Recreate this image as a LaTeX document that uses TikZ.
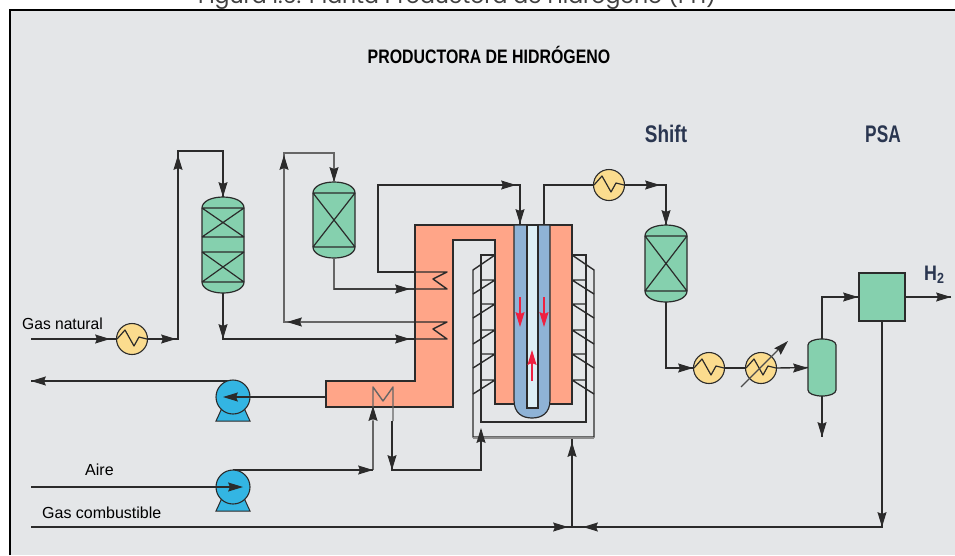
\documentclass[tikz,border=0pt]{standalone}
\usepackage{fontspec}
\setmainfont{Liberation Sans}
\newfontfamily\capfont{Poppins}
\usetikzlibrary{calc}
\definecolor{bgc}{HTML}{E4E6E8}
\definecolor{linec}{HTML}{2B2B2B}
\definecolor{hxc}{HTML}{FBDC8E}
\definecolor{vesc}{HTML}{85D0AE}
\definecolor{furn}{HTML}{FFA588}
\definecolor{tubec}{HTML}{8FB3D6}
\definecolor{tubein}{HTML}{DDEFF6}
\definecolor{pumpc}{HTML}{33B5E3}
\definecolor{headc}{HTML}{2A3650}
\definecolor{redc}{HTML}{EE2040}
\tikzset{
  pipe/.style={draw=linec,line width=1.4pt},
  greypipe/.style={draw=black!60,line width=1.4pt},
  hxnode/.style={circle,draw=linec,line width=1.1pt,fill=hxc,minimum size=31pt,inner sep=0pt},
  pumpnode/.style={circle,draw=linec,line width=1.1pt,fill=pumpc,minimum size=34pt,inner sep=0pt},
  boxnode/.style={draw=linec,line width=1.5pt,fill=vesc,minimum width=46pt,minimum height=48pt,inner sep=0pt},
  lab/.style={font=\fontsize{16}{18}\selectfont,text=black,inner sep=0pt,anchor=base west},
  heading/.style={font=\bfseries\fontsize{24}{26}\selectfont,text=headc,inner sep=0pt},
}
% arrowhead: tip at (x,y), direction in degrees (0 right, 90 up)
\newcommand{\ahd}[4][linec]{\fill[#1,shift={(#2,#3)},rotate=#4] (0,0)--(-15,4.6)--(-13,0)--(-15,-4.6)--cycle;}
% vessel: name, cx, top, bottom, half width, head height
\newcommand{\vessel}[6]{%
  \path[draw=linec,line width=1.2pt,fill=vesc]
    ({#2-#5},{#3+#6}) .. controls ({#2-#5},{#3+.4*#6}) and ({#2-.55*#5},#3) .. (#2,#3)
    .. controls ({#2+.55*#5},#3) and ({#2+#5},{#3+.4*#6}) .. ({#2+#5},{#3+#6})
    -- ({#2+#5},{#4-#6})
    .. controls ({#2+#5},{#4-.4*#6}) and ({#2+.55*#5},#4) .. (#2,#4)
    .. controls ({#2-.55*#5},#4) and ({#2-#5},{#4-.4*#6}) .. ({#2-#5},{#4-#6}) -- cycle;
  \node[inner sep=0pt,minimum width={2*#5*1pt},minimum height={(#4-#3)*1pt}] (#1) at (#2,{(#3+#4)/2}) {};
}
% catalyst bed: x left, x right, top, bottom
\newcommand{\bed}[4]{%
  \draw[line width=1.2pt,draw=linec] (#1,#3)--(#2,#3) (#1,#4)--(#2,#4) (#1,#3)--(#2,#4) (#1,#4)--(#2,#3);
}
% zigzag in exchanger
\newcommand{\zig}[2]{%
  \draw[line width=1.2pt,draw=linec,line join=round] ({#1-15},#2)--({#1-7},{#2-9})--({#1+2},{#2+7})--({#1+7},{#2-2})--({#1+15},#2);
}
\begin{document}
\begin{tikzpicture}[x=1pt,y=-1pt]
\useasboundingbox (0,0) rectangle (955,555);
\clip (0,0) rectangle (955,555);
% page and panel
\fill[white] (0,0) rectangle (955,555);
\fill[bgc] (10,10) rectangle (955,555);
\draw[black,line width=2.4pt] (10,555)--(10,10)--(955,10);
\node[font=\capfont\fontsize{22}{24}\selectfont,text=black!75,inner sep=0pt,anchor=base west] (cap) at (198,3) {Figura I.6: Planta Productora de Hidrógeno (PH)};
% labels
\node[heading,font=\bfseries\fontsize{19.5}{21}\selectfont,text=black] (title) at (489,55) {\scalebox{.815}[1]{PRODUCTORA DE HIDRÓGENO}};
\node[heading] (shift) at (666,134) {\scalebox{.79}[1]{Shift}};
\node[heading] (psa) at (883,134) {\scalebox{.72}[1]{PSA}};
\node[heading,font=\bfseries\fontsize{21}{23}\selectfont,anchor=base west] (h2) at (924,280) {\scalebox{.85}[1]{H$_{\mathbf 2}$}};
\node[lab] (lgas) at (22,329) {\scalebox{.975}[1]{Gas natural}};
\node[lab] (laire) at (85,475) {Aire};
\node[lab] (lcomb) at (42,518) {Gas combustible};
% free ends
\coordinate (gasin) at (31,339);
\coordinate (aout) at (31,381);
\coordinate (airin) at (31,487);
\coordinate (fuelin) at (31,527);
\coordinate (h2out) at (951,297);
\coordinate (sepout) at (822,437);
\coordinate (frameb) at (572,437);
\coordinate (mix) at (572,527);
% equipment
\vessel{ra}{223}{197}{293}{21}{11}
\bed{202}{244}{208}{237}
\bed{202}{244}{252}{282}
\vessel{rb}{334}{182}{258}{21}{11}
\bed{313}{355}{193}{247}
\vessel{rc}{666}{225}{302}{21}{11}
\bed{645}{687}{236}{291}
\vessel{sep}{822}{339}{396}{14}{6}
\node[boxnode] (psabox) at (882,297) {};
% piping left block
\draw[pipe] (gasin)--(178,339)--(178,151)--(223,151)--(ra.north);
\draw[greypipe] (rb.north)--(334,153)--(284,153)--(284,322)--(447,322);
\draw[pipe] (ra.south)--(223,339)--(447,339);
\draw[greypipe] (rb.south)--(334,289)--(447,289);
\draw[pipe] (447,272)--(378,272)--(378,185)--(520,185)--(520,224);
% burner frames
\draw[pipe] (495,255)--(481,255)--(481,422)--(586,422)--(586,255)--(572,255);
\draw[pipe] (495,255)--(473,270)--(473,437)--(594,437)--(594,270)--(572,255);
\foreach \yy in {280,304,330,354,380}{
  \draw[pipe] (481,\yy)--(495,\yy) (495,\yy)--(473,{\yy+14});
  \draw[pipe] (586,\yy)--(572,\yy) (572,\yy)--(594,{\yy+14});
}
% furnace
\path[draw=linec,line width=1.5pt,fill=furn] (415,225)--(572,225)--(572,404)--(495,404)--(495,240)--(453,240)--(453,407)--(326,407)--(326,381)--(415,381)--cycle;
% tube
\path[draw=linec,line width=1.2pt,fill=tubec] (514,225)--(514,400) .. controls (514,413) and (522,418) .. (532,418) .. controls (542,418) and (550,413) .. (550,400)--(550,225)--cycle;
\path[draw=linec,line width=1.2pt,fill=tubein] (527,225)--(527,408)--(538,408)--(538,225)--cycle;
% coil lines on the furnace
\draw[pipe,line join=round] (378,272)--(447,272)--(433,279)--(447,289)--(334,289);
\draw[pipe,line join=round] (415,322)--(447,322)--(433,329)--(447,339)--(415,339);
% M coil
\draw[greypipe,line join=round] (373,421)--(373,387)--(383,401)--(393,387)--(393,421);
% right block piping
\node[hxnode] (hxb) at (609,185) {};
\node[hxnode] (hxc) at (709,368) {};
\node[hxnode] (hxd) at (761,368) {};
\node[hxnode] (hxa) at (132,339) {};
\zig{132}{339}\zig{609}{185}\zig{709}{368}\zig{761}{368}
\draw[pipe] (544,225)--(544,185)--(hxb.west);
\draw[pipe] (hxb.east)--(666,185)--(rc.north);
\draw[pipe] (rc.south)--(666,368)--(hxc.west);
\draw[pipe] (hxc.east)--(hxd.west);
\draw[pipe] (hxd.east)--(sep.west);
\draw[pipe] (sep.north)--(822,297)--(psabox.west);
\draw[pipe] (psabox.east)--(h2out);
\draw[pipe] (sep.south)--(sepout);
\draw[pipe] (psabox.south)--(882,527)--(mix);
\draw[pipe] (fuelin)--(mix);
\draw[pipe] (mix)--(frameb);
\draw[black!45,line width=1.6pt] (473,438)--(594,438);
\draw[pipe] (392,421)--(392,470)--(481,470)--(481,430);
\draw[greypipe] (373,421)--(373,470);
% pumps
\draw[pipe] (aout)--(233,381);
\draw[pipe] (233,470)--(373,470);
\fill[pumpc,draw=linec,line width=1pt] (222,408)--(216,421)--(250,421)--(244,408)--cycle;
\fill[pumpc,draw=linec,line width=1pt] (222,498)--(216,511)--(250,511)--(244,498)--cycle;
\node[pumpnode] (pa) at (233,397) {};
\node[pumpnode] (pb) at (233,487) {};
\draw[pipe] (326,397)--(pa.center);
\draw[pipe] (airin)--(pb.center);
\draw[pipe] (gasin)--(hxa.west);
\draw[pipe] (hxa.east)--(178,339);
% diagonal on hxd
\draw[black!70,line width=1.2pt] (741,387)--(780,348);
% arrowheads
\ahd{110}{339}{0}\ahd{176}{339}{0}
\ahd{178}{155}{90}\ahd{223}{197}{-90}
\ahd{223}{339}{-90}\ahd{410}{339}{0}
\ahd{284}{155}{90}\ahd{334}{182}{-90}
\ahd{287}{322}{180}\ahd{410}{289}{0}
\ahd{516}{185}{0}\ahd{520}{224}{-90}
\ahd{660}{185}{0}\ahd{666}{225}{-90}
\ahd{693}{368}{0}\ahd{808}{368}{0}
\ahd{858}{297}{0}\ahd{951}{297}{0}
\ahd{822}{437}{-90}\ahd{882}{527}{-90}
\ahd{788}{341}{45}
\ahd{583}{527}{180}\ahd{568}{527}{0}\ahd{572}{442}{90}
\ahd{481}{428}{90}\ahd{392}{470}{-90}
\ahd{373}{406}{90}\ahd{373}{470}{0}
\ahd{31}{381}{180}\ahd{223}{397}{180}\ahd{243}{487}{0}
% red arrows
\draw[redc,line width=1.3pt] (520,297)--(520,322);
\ahd[redc]{520}{327}{-90}
\draw[redc,line width=1.3pt] (544,297)--(544,322);
\ahd[redc]{544}{327}{-90}
\draw[redc,line width=1.3pt] (532,381)--(532,355);
\ahd[redc]{532}{350}{90}
\end{tikzpicture}
\end{document}
